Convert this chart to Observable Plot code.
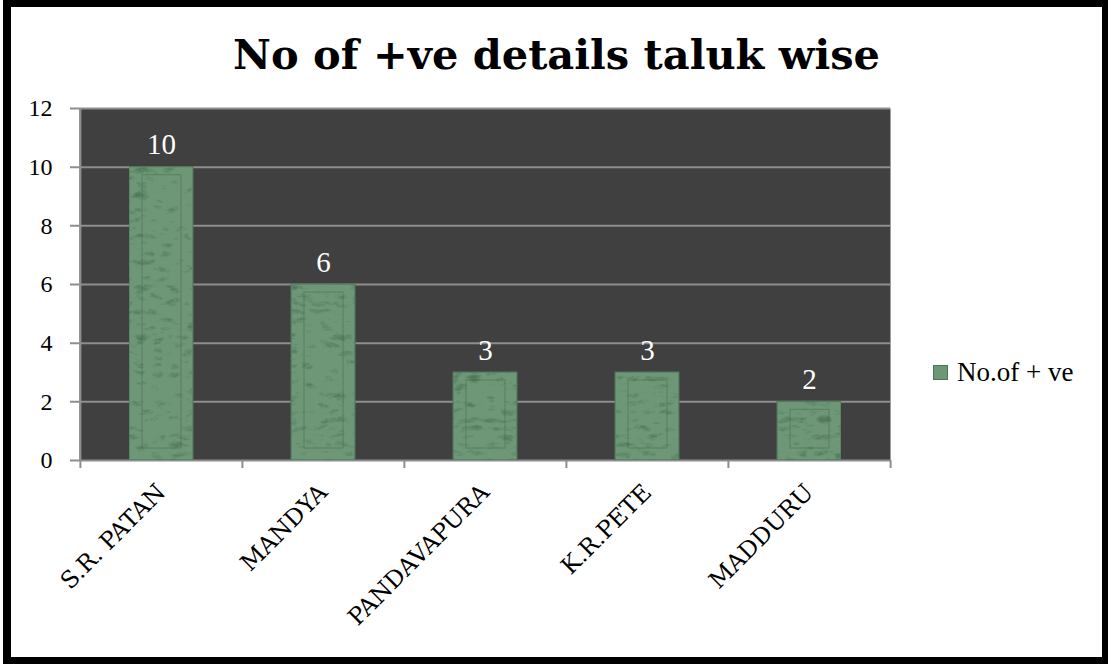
<!DOCTYPE html>
<html><head><meta charset="utf-8">
<script src="https://cdn.jsdelivr.net/npm/d3@7"></script>
<script src="https://cdn.jsdelivr.net/npm/@observablehq/plot@0.6"></script>
<style>
html,body{margin:0;padding:0;background:#fff;}
#frame{position:relative;width:1108px;height:664px;overflow:hidden;background:#fff;}
#border{position:absolute;left:3px;top:0;right:0;bottom:0;border-style:solid;border-color:#000;border-width:7px 6px 7px 8px;pointer-events:none;z-index:5;}
#title{position:absolute;left:0;width:1113px;top:30px;text-align:center;font:bold 41.5px "DejaVu Serif";color:#000;white-space:nowrap;}
#swatch{position:absolute;left:933px;top:365px;width:13px;height:13px;background:#6d9776;border:1px solid #4e7458;}
#legtext{position:absolute;left:957px;top:357px;font:27px "Liberation Serif";color:#000;white-space:nowrap;}
#plot{position:absolute;left:0;top:0;}
</style>
</head><body>
<svg width="0" height="0" style="position:absolute">
 <defs>
  <filter id="tex" x="0%" y="0%" width="100%" height="100%" color-interpolation-filters="sRGB">
   <feTurbulence type="turbulence" baseFrequency="0.06 0.12" numOctaves="3" seed="11" result="n"/>
   <feColorMatrix in="n" type="matrix" values="0 0 0 0 0.30  0 0 0 0 0.47  0 0 0 0 0.35  2.0 0 0 0 -0.72" result="s"/>
   <feComposite in="s" in2="SourceGraphic" operator="in" result="c"/>
   <feMerge><feMergeNode in="SourceGraphic"/><feMergeNode in="c"/></feMerge>
  </filter>
 </defs>
</svg>
<div id="frame">
  <div id="plot"></div>
  <div id="title">No of +ve details taluk wise</div>
  <div id="swatch"></div>
  <div id="legtext">No.of + ve</div>
  <div id="border"></div>
</div>
<script>
const taluks = ["S.R. PATAN", "MANDYA", "PANDAVAPURA", "K.R.PETE", "MADDURU"];
const positives = [10, 6, 3, 3, 2];
const yTicks = [0, 2, 4, 6, 8, 10, 12];
const seriesName = "No.of + ve";

const data = taluks.map((t, i) => ({taluk: t, value: positives[i]}));

const W = 1108, H = 664, mL = 79, mR = 218, mT = 108, mB = 204;
const bw = (W - mL - mR) / taluks.length;
const grid = "#8e8e8e";

const plot = Plot.plot({
  width: W, height: H,
  marginLeft: mL, marginRight: mR, marginTop: mT, marginBottom: mB,
  style: {background: "transparent", color: "#000", overflow: "visible", fontFamily: "Liberation Serif"},
  x: {domain: taluks, padding: 0, label: null},
  y: {domain: [0, 12], label: null},
  marks: [
    Plot.frame({fill: "#404040", stroke: "none"}),
    Plot.ruleY(yTicks, {stroke: grid, strokeWidth: 2, insetLeft: -9}),
    Plot.ruleX([taluks[0]], {x: d => d, dx: -bw / 2, y1: 0, y2: 12, stroke: grid, strokeWidth: 2}),
    Plot.ruleX(taluks, {x: d => d, dx: -bw / 2, y1: 0, y2: 0, insetBottom: -8, stroke: grid, strokeWidth: 2}),
    Plot.ruleX([taluks[taluks.length - 1]], {x: d => d, dx: bw / 2, y1: 0, y2: 0, insetBottom: -8, stroke: grid, strokeWidth: 2}),
    Plot.barY(data, {x: "taluk", y: "value", fill: "#6d9776", stroke: "#4e7458", strokeWidth: 1, insetLeft: 49, insetRight: 49}),
    Plot.barY(data, {x: "taluk", y1: 0, y2: "value", fill: "none", stroke: "#3c6244", strokeOpacity: 0.4, strokeWidth: 1, insetLeft: 62, insetRight: 61, insetTop: 8, insetBottom: 12}),
    Plot.text(data, {x: "taluk", y: "value", text: d => String(d.value), dy: -22, fill: "#ffffff", fontSize: 29, fontFamily: "Liberation Serif"}),
    Plot.axisY({ticks: yTicks, tickSize: 0, tickPadding: 27, fontSize: 24, fontFamily: "Liberation Serif", fill: "#000"}),
    Plot.axisX({tickSize: 0, tickRotate: -45, tickPadding: 28, fontSize: 23.5, fontFamily: "DejaVu Serif", fill: "#000"})
  ]
});
document.getElementById("plot").appendChild(plot);
const barGroup = plot.querySelector('g[aria-label="bar"]');
if (barGroup) barGroup.setAttribute("filter", "url(#tex)");
document.getElementById("legtext").textContent = seriesName;

// enforce fonts on each text element
plot.querySelectorAll("text").forEach(t => {
  const g = t.closest("g[aria-label]");
  const lab = g ? g.getAttribute("aria-label") : "";
  let fam, size;
  if (/x-axis/.test(lab)) { fam = "DejaVu Serif"; size = "23.5px"; }
  else if (/y-axis/.test(lab)) { fam = "Liberation Serif"; size = "24px"; }
  else { fam = "Liberation Serif"; size = "29px"; }
  t.style.setProperty("font-family", `"${fam}"`, "important");
  t.style.setProperty("font-size", size, "important");
});
</script>
</body></html>
